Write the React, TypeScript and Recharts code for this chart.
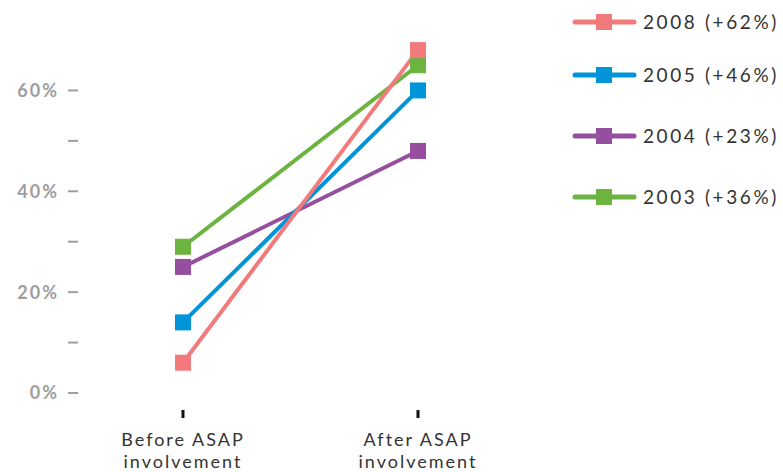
import { Line, LineChart, XAxis, YAxis } from 'recharts'

const categories = ['Before ASAP involvement', 'After ASAP involvement']
const values2008 = [6, 68]
const values2005 = [14, 60]
const values2004 = [25, 48]
const values2003 = [29, 65]
const yTicks = [0, 10, 20, 30, 40, 50, 60]

const SERIES = [
  { key: 's2008', name: '2008 (+62%)', color: '#f27a7d', values: values2008 },
  { key: 's2005', name: '2005 (+46%)', color: '#0094d8', values: values2005 },
  { key: 's2004', name: '2004 (+23%)', color: '#954f9e', values: values2004 },
  { key: 's2003', name: '2003 (+36%)', color: '#6cb33f', values: values2003 },
]

const FONT = 'Lato, "Open Sans", sans-serif'

const data = categories.map((cat, i) => {
  const row: Record<string, string | number> = { cat }
  SERIES.forEach((s) => {
    row[s.key] = s.values[i]
  })
  return row
})

function SquareDot({ cx, cy, stroke }: { cx?: number; cy?: number; stroke?: string }) {
  if (cx == null || cy == null) return null
  return <rect x={cx - 8} y={cy - 8} width={16} height={16} fill={stroke} />
}

function XTick({ x, y, payload }: { x?: number; y?: number; payload?: { value: string } }) {
  if (x == null || y == null || !payload) return null
  const words = payload.value.split(' ')
  const first = words.slice(0, 2).join(' ')
  const second = words.slice(2).join(' ')
  return (
    <g>
      <line x1={x} x2={x} y1={y + 17} y2={y + 25} stroke="#111" strokeWidth={3} />
      <text
        x={x}
        y={y + 53}
        textAnchor="middle"
        fill="#333"
        fontSize={18}
        fontFamily={FONT}
        letterSpacing={2}
      >
        <tspan x={x}>{first}</tspan>
        <tspan x={x} dy={22}>
          {second}
        </tspan>
      </text>
    </g>
  )
}

function ChartLegend() {
  const rowTops = [22, 75, 136, 197]
  return (
    <svg width={215} height={220} style={{ position: 'absolute', left: 568, top: 0 }}>
      {SERIES.map((s, i) => (
        <g key={s.key}>
          <line
            x1={7}
            x2={66}
            y1={rowTops[i]}
            y2={rowTops[i]}
            stroke={s.color}
            strokeWidth={5}
            strokeLinecap="round"
          />
          <rect x={28} y={rowTops[i] - 8} width={16} height={16} fill={s.color} />
          <text
            x={75}
            y={rowTops[i] + 7}
            fontSize={19}
            fill="#333"
            fontFamily={FONT}
            letterSpacing={2.6}
          >
            {s.name}
          </text>
        </g>
      ))}
    </svg>
  )
}

export default function App() {
  const drawOrder = [...SERIES].reverse()
  return (
    <div style={{ position: 'absolute', left: 0, top: 0, width: 783, height: 472, background: '#fff' }}>
      <LineChart
        width={783}
        height={472}
        data={data}
        margin={{ top: 40, right: 250, left: 0, bottom: 0 }}
      >
        <XAxis
          dataKey="cat"
          axisLine={false}
          tickLine={false}
          tickSize={0}
          tickMargin={0}
          height={79}
          padding={{ left: 105, right: 115 }}
          interval={0}
          tick={<XTick />}
        />
        <YAxis
          domain={[0, 70]}
          ticks={yTicks}
          width={78}
          axisLine={false}
          tickSize={10}
          tickMargin={9}
          tickLine={{ stroke: '#9e9e9e', strokeWidth: 2 }}
          tickFormatter={(v: number) => (v % 20 === 0 ? `${v}%` : '')}
          tick={{ fill: '#9e9e9e', fontSize: 18, fontFamily: FONT, fontWeight: 700, letterSpacing: 2 }}
        />
        {drawOrder.map((s) => (
          <Line
            key={s.key}
            dataKey={s.key}
            name={s.name}
            stroke={s.color}
            strokeWidth={4}
            dot={<SquareDot />}
            activeDot={false}
            isAnimationActive={false}
          />
        ))}
      </LineChart>
      <ChartLegend />
    </div>
  )
}
